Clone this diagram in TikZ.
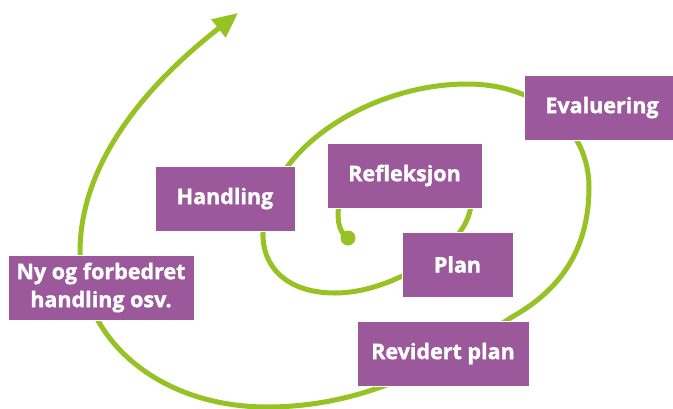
\documentclass[tikz,border=0pt]{standalone}
\usepackage{fontspec}
\setmainfont{Open Sans}[BoldFeatures={FakeBold=1.5}]
\usetikzlibrary{arrows.meta}
\definecolor{boxpurple}{RGB}{155,89,156}
\definecolor{spiralgreen}{RGB}{151,194,36}
\begin{document}
\begin{tikzpicture}[x=1pt,y=-1pt,
  lbl/.style={fill=boxpurple, draw=white, line width=0.8pt, text=white,
    font=\bfseries\fontsize{21.5}{28}\selectfont, minimum height=65pt,
    inner sep=0pt, align=center},
  spiralline/.style={draw=spiralgreen, line width=5pt}]
\useasboundingbox (0,0) rectangle (673,408);
\coordinate (start) at (348,238);
\coordinate (tip) at (238,13);
\draw[spiralline, -{Triangle[length=25pt,width=22pt]}]
  (start) .. controls (338,233) and (336,215) .. (340,200)
  .. controls (355,150) and (500,150) .. (466,222)
  .. controls (452,252) and (390,293) .. (335,293)
  .. controls (285,293) and (262,265) .. (263,233)
  .. controls (264,150) and (370,84) .. (467,84)
  .. controls (540,84) and (589,130) .. (589,187)
  .. controls (589,250) and (560,290) .. (512,317)
  .. controls (460,350) and (380,407) .. (267,407)
  .. controls (160,407) and (80,340) .. (80,252)
  .. controls (80,140) and (185,55) .. (tip);
\fill[spiralgreen] (start) circle (7.5pt);
\node[lbl, minimum width=140pt] (handling) at (225,198.5) {Handling};
\node[lbl, minimum width=186pt] (ny) at (101,287.5) {Ny og forbedret\\handling osv.};
\node[lbl, minimum width=155pt] (refl) at (404.5,175.5) {Refleksjon};
\node[lbl, minimum width=111pt] (plan) at (457.5,264.5) {Plan};
\node[lbl, minimum width=156pt] (eval) at (602,107.5) {Evaluering};
\node[lbl, minimum width=172pt] (rev) at (443,353.5) {Revidert plan};
\end{tikzpicture}
\end{document}
